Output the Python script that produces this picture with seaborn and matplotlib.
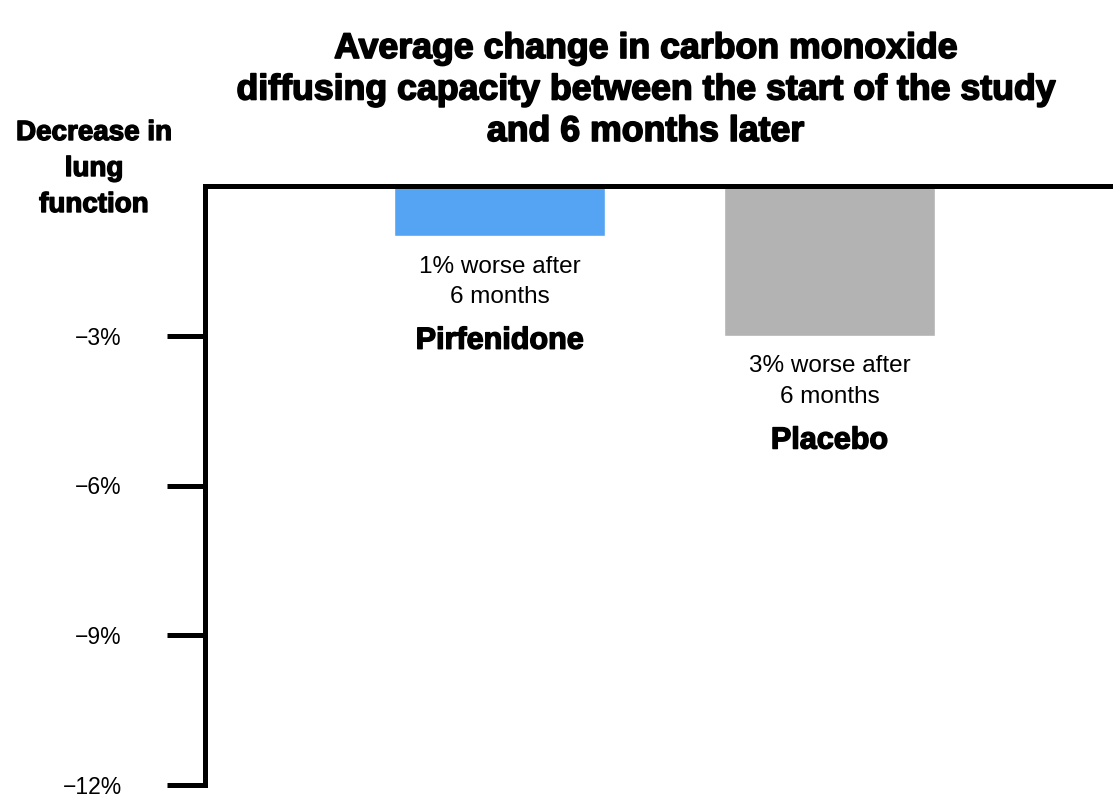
import matplotlib
matplotlib.use("Agg")
import matplotlib.pyplot as plt
import matplotlib.patheffects as pe
import seaborn as sns
import pandas as pd

# Data
groups = ["Pirfenidone", "Placebo"]
changes = [-1, -3]
notes = ["1% worse after\n6 months", "3% worse after\n6 months"]
bar_colors = ["#55A3F3", "#B3B3B3"]
tick_values = [-3, -6, -9, -12]
tick_labels = ["\u22123%", "\u22126%", "\u22129%", "\u221212%"]

sns.set_theme(style="white")
plt.rcParams["font.family"] = ["Liberation Sans", "DejaVu Sans"]
plt.rcParams["text.color"] = "black"

df = pd.DataFrame({"group": groups, "change": changes})

fig = plt.figure(figsize=(11.13, 7.96), dpi=100)
W, H = 1113, 796
left, right, top, bottom = 204.5, 1113, 186, 785
ax = fig.add_axes([left / W, 1 - bottom / H, (right - left) / W, (bottom - top) / H])

sns.barplot(data=df, x="group", y="change", hue="group", palette=bar_colors,
            width=0.642, saturation=1, legend=False, ax=ax, zorder=1)

ax.set_xlim(-0.895, 1.86)
ax.set_ylim(-12, 0)
ax.set_xlabel("")
ax.set_ylabel("")
ax.set_xticks([])
ax.set_yticks(tick_values)
ax.set_yticklabels(tick_labels)
ax.tick_params(axis="y", left=True, length=27.4, width=3.6, pad=32,
               labelsize=16.5, colors="black", direction="out")

for side in ["right", "bottom"]:
    ax.spines[side].set_visible(False)
for side in ["left", "top"]:
    ax.spines[side].set_visible(True)
    ax.spines[side].set_color("black")
    ax.spines[side].set_linewidth(3.6)
    ax.spines[side].set_zorder(3)
ax.spines["left"].set_capstyle("projecting")

heavy = [pe.withStroke(linewidth=1.0, foreground="black")]

for i, (val, note, name) in enumerate(zip(changes, notes, groups)):
    ax.text(i, val - 0.92, note, ha="center", va="center", fontsize=17.5,
            color="black", linespacing=1.5)
    ax.text(i, val - 2.1, name, ha="center", va="center", fontsize=22,
            fontweight="bold", color="black", path_effects=heavy)

fig.text(645 / W, 1 - 90 / H,
         "Average change in carbon monoxide\ndiffusing capacity between the start of the study\nand 6 months later",
         ha="center", va="center", fontsize=25.7, fontweight="bold", linespacing=1.24,
         color="black", path_effects=[pe.withStroke(linewidth=1.2, foreground="black")])
fig.text(94 / W, 1 - 169 / H, "Decrease in\nlung\nfunction",
         ha="center", va="center", fontsize=20, fontweight="bold", linespacing=1.5,
         color="black", path_effects=heavy)

fig.savefig("out.png", dpi=100, facecolor="white")
